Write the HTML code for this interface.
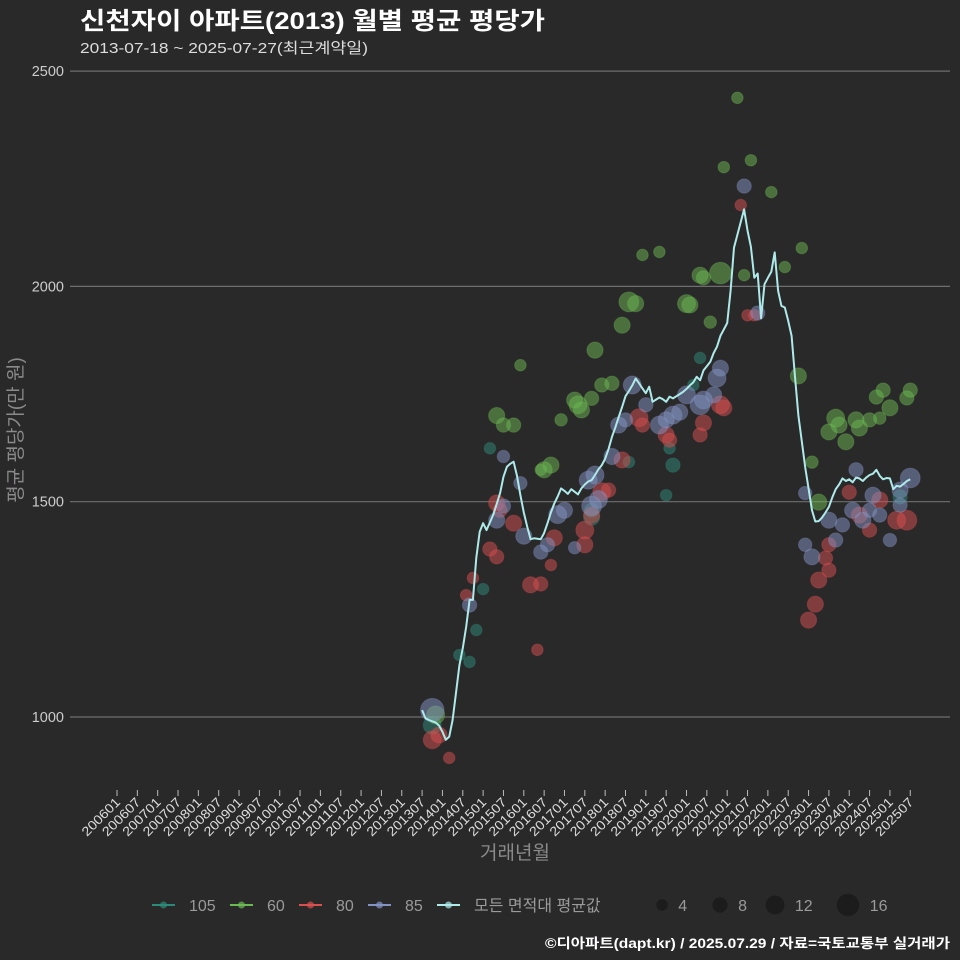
<!DOCTYPE html>
<html><head><meta charset="utf-8">
<style>
html,body{margin:0;padding:0;background:#2a292a;}
svg{display:block;font-family:"Liberation Sans","Noto Sans CJK KR",sans-serif;}
</style></head>
<body>
<svg id="chart" width="960" height="960" viewBox="0 0 960 960" xmlns="http://www.w3.org/2000/svg">
<rect width="960" height="960" fill="#2a292a"/>
<text x="80" y="29" fill="#ffffff" font-size="24" font-weight="bold" textLength="465" lengthAdjust="spacingAndGlyphs">신천자이 아파트(2013) 월별 평균 평당가</text>
<text x="80" y="53" fill="#dddddd" font-size="15" textLength="288" lengthAdjust="spacingAndGlyphs">2013-07-18 ~ 2025-07-27(최근계약일)</text>
<g id="grid"></g>
<g id="xaxis"></g>
<g id="points"></g>
<g id="avgline"></g>
<text transform="translate(22,430) rotate(-90)" text-anchor="middle" fill="#8a8a8a" font-size="19">평균 평당가(만 원)</text>
<text x="515" y="859" text-anchor="middle" fill="#8a8a8a" font-size="19">거래년월</text>
<g id="legend"></g>
<text x="545" y="948" fill="#ffffff" font-size="13.5" font-weight="bold" textLength="405" lengthAdjust="spacingAndGlyphs">©디아파트(dapt.kr) / 2025.07.29 / 자료=국토교통부 실거래가</text>
</svg>
<script>
// ---- data ----
const yTicks = [1000, 1500, 2000, 2500];
const xTickLabels = ["200601","200607","200701","200707","200801","200807","200901","200907","201001","201007","201101","201107","201201","201207","201301","201307","201401","201407","201501","201507","201601","201607","201701","201707","201801","201807","201901","201907","202001","202007","202101","202107","202201","202207","202301","202307","202401","202407","202501","202507"];
const lineStartMonth = 90; // months since 2006-01 (2013-07)
const avgValues = [1016,997,993,990,987,980,966,947,954,993,1056,1120,1160,1210,1272,1272,1370,1430,1450,1434,1452,1470,1495,1520,1558,1581,1588,1593,1560,1515,1475,1442,1413,1415,1414,1413,1427,1450,1475,1496,1512,1531,1525,1518,1529,1523,1517,1531,1540,1547,1550,1562,1575,1585,1600,1622,1650,1672,1697,1720,1745,1757,1770,1786,1775,1763,1752,1767,1732,1737,1742,1738,1732,1744,1740,1745,1750,1755,1762,1770,1777,1790,1782,1805,1815,1825,1845,1860,1885,1900,1915,1990,2090,2120,2150,2179,2130,2092,2020,2030,1926,2005,2020,2034,2079,1990,1955,1951,1920,1885,1790,1700,1640,1580,1530,1480,1454,1455,1463,1475,1488,1510,1529,1540,1554,1548,1552,1545,1556,1554,1548,1556,1562,1565,1574,1560,1552,1555,1554,1529,1537,1535,1541,1548,1552];
// scatter series: month index (from 2013-07), value, count
const s105Month = [3,11,14,16,18,20,50,50,61,73,82,80,74,72,141];
const s105Value = [981,1144,1128,1202,1297,1624,1464,1480,1592,1624,1834,1771,1585,1515,1511];
const s105Count = [10,3,3,3,3,3,8,6,3,3,3,3,6,3,6];
const s60Month = [4,22,24,27,29,35,36,38,41,45,47,46,50,53,56,51,59,61,63,65,70,78,79,82,83,88,85,89,93,97,95,103,107,112,111,115,122,123,120,125,128,129,132,135,134,136,138,143,144,117];
const s60Value = [1005,1700,1678,1678,1817,1574,1574,1585,1690,1736,1713,1725,1740,1771,1775,1852,1910,1964,1960,2073,2080,1960,1957,2026,2020,2031,1917,2277,2438,2293,2026,2219,2045,2089,1792,1592,1694,1678,1662,1639,1690,1671,1690,1694,1743,1759,1718,1741,1759,1499];
const s60Count = [10,8,6,6,3,3,8,8,4,8,8,10,6,6,6,8,8,12,8,3,3,10,8,8,6,14,4,3,3,3,3,3,3,3,8,4,10,8,8,8,8,8,6,4,6,6,8,6,6,8];
const s80Month = [3,5,8,15,13,22,23,27,20,22,32,35,34,38,39,48,48,50,53,55,59,64,65,72,73,82,83,88,89,94,96,98,114,116,117,120,119,120,126,129,135,140,143,132];
const s80Value = [947,958,905,1323,1283,1497,1480,1450,1390,1372,1307,1309,1156,1353,1416,1400,1434,1469,1523,1527,1597,1695,1678,1655,1643,1655,1683,1725,1718,2189,1933,1933,1225,1262,1318,1341,1369,1400,1522,1469,1504,1457,1457,1434];
const s80Count = [10,8,3,3,3,8,6,8,6,6,8,6,3,3,8,8,10,8,10,6,8,10,6,8,6,6,8,10,8,3,3,3,8,8,8,6,6,6,6,8,8,10,12,6];
const s85Month = [3,14,22,24,24,30,29,35,37,40,42,45,49,51,50,52,56,58,60,62,66,70,72,74,76,78,82,83,86,87,88,95,99,113,113,115,120,122,124,128,127,130,133,132,135,138,141,141,144];
const s85Value = [1016,1260,1457,1490,1605,1420,1543,1383,1400,1470,1480,1393,1550,1562,1490,1505,1605,1678,1690,1771,1725,1678,1690,1701,1708,1748,1725,1736,1748,1787,1810,2233,1938,1520,1400,1372,1457,1411,1446,1574,1480,1457,1515,1480,1469,1411,1527,1492,1555];
const s85Count = [16,6,8,6,4,8,5,6,6,10,8,4,10,10,12,10,8,8,6,10,6,10,8,10,8,10,12,10,8,10,8,6,6,5,5,8,8,6,6,6,8,8,8,6,6,5,8,6,12];
const seriesNames = ["105","60","80","85"];
const sizeLegend = [4,8,12,16];

// ---- scales ----
const NS = "http://www.w3.org/2000/svg";
function xScale(m){ return 117 + m*3.39; }
function yScale(v){ return 717 - (v-1000)*0.4306; }
function rScale(n){ return 4.4 + 0.46*n; }
function mk(tag, attrs, parent){ const e=document.createElementNS(NS,tag); for(const k in attrs) e.setAttribute(k,attrs[k]); parent.appendChild(e); return e; }

const grid=document.getElementById('grid');
yTicks.forEach(t=>{
  const l=mk('line',{x1:70,x2:950,y1:yScale(t),y2:yScale(t),stroke:'#6e6e6e','stroke-width':1.2},grid);
  
  
  const tx=mk('text',{x:64,y:yScale(t)+5,'text-anchor':'end',fill:'#cccccc','font-size':14.5},grid);
  tx.textContent=t;
  
  
});
const xa=document.getElementById('xaxis');
xTickLabels.forEach((lab,k)=>{
  const x=xScale(k*6);
  const tk=mk('line',{x1:x,x2:x,y1:790,y2:796,stroke:'#bbbbbb','stroke-width':1},xa);
  
  
  const tx=mk('text',{transform:`translate(${x+4},${803}) rotate(-45)`,'text-anchor':'end',fill:'#dddddd','font-size':13,textLength:48,lengthAdjust:'spacingAndGlyphs'},xa);
  tx.textContent=lab;
  
  
});

const colors={"105":"#2e8a78","60":"#6cb852","80":"#d85050","85":"#8393c4"};
const pts=document.getElementById('points');
function drawSeries(name, months, values, counts){
  months.forEach((m,k)=>{
    const c=mk('circle',{cx:xScale(lineStartMonth+m),cy:yScale(values[k]),r:rScale(counts[k]),fill:colors[name],'fill-opacity':0.5,stroke:colors[name],'stroke-opacity':0.3},pts);
    
    
  });
}
drawSeries("105",s105Month,s105Value,s105Count);
drawSeries("60",s60Month,s60Value,s60Count);
drawSeries("80",s80Month,s80Value,s80Count);
drawSeries("85",s85Month,s85Value,s85Count);

const al=document.getElementById('avgline');
const d=avgValues.map((v,k)=>(k?'L':'M')+xScale(lineStartMonth+k).toFixed(1)+','+yScale(v).toFixed(1)).join(' ');
const path=mk('path',{d:d,fill:'none',stroke:'#aeeaea','stroke-width':2,'stroke-linejoin':'round'},al);



// ---- legend ----
const lg=document.getElementById('legend');
const legItems=[["105",152,colors["105"]],["60",230,colors["60"]],["80",299,colors["80"]],["85",368,colors["85"]],["모든 면적대 평균값",437,"#aeeaea"]];
legItems.forEach(([lab,x,col])=>{
  const g=mk('g',{},lg);
  
  
  mk('line',{x1:x,x2:x+23,y1:905,y2:905,stroke:col,'stroke-width':2},g);
  mk('circle',{cx:x+11.5,cy:905,r:3.5,fill:col,'fill-opacity':0.7},g);
  const t=mk('text',{x:x+37,y:911,fill:'#9a9a9a','font-size':16},g);
  t.textContent=lab;
});
const sizeX=[662,720,775,848];
sizeLegend.forEach((n,k)=>{
  const g=mk('g',{},lg);
  
  
  mk('circle',{cx:sizeX[k],cy:905,r:rScale(n)-0.5,fill:'#1a1a1a','fill-opacity':0.85},g);
  const t=mk('text',{x:sizeX[k]+rScale(n)+10,y:911,fill:'#9a9a9a','font-size':16},g);
  t.textContent=n;
});
</script>
</body></html>
